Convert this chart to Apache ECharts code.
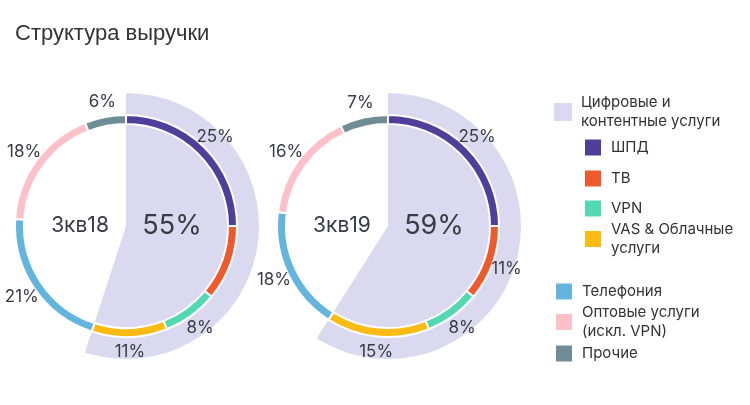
<!DOCTYPE html>
<html lang="ru">
<head>
    <meta charset="UTF-8">
    <title>Структура выручки</title>
    <script src="https://cdn.jsdelivr.net/npm/echarts@6/dist/echarts.min.js"></script>
    <style>
        html, body {margin: 0; padding: 0; background: #fff;}
        #main {width: 750px; height: 405px;}
    </style>
</head>
<body>
<div id="main"></div>
<script type="text/javascript">
// данные
var periods = ['3кв18', '3кв19'];
var digitalName = 'Цифровые и\nконтентные услуги';
var digitalShare = [55, 59];
var segNames = ['ШПД', 'ТВ', 'VPN', 'VAS & Облачные\nуслуги', 'Телефония', 'Оптовые услуги\n(искл. VPN)', 'Прочие'];
var segValues = [
    [25, 11, 8, 11, 21, 18, 6],
    [25, 11, 8, 15, 18, 16, 7]
];
var segColors = ['#4f3f9b', '#ee5a2c', '#52d8b2', '#fbbb14', '#64b5de', '#fcc1c8', '#6f8d97'];
var digitalColor = '#dbd9ef';

var centersX = [126, 388];
var centerY = 226;
var textColor = '#3a3a46';
var font = 'Inter';

var myChart = echarts.init(document.getElementById('main'));

var series = [];
var graphic = [];
periods.forEach(function (p, i) {
    var c = [centersX[i], centerY];
    // светлый сектор цифровых услуг
    series.push({
        type: 'pie', silent: true, startAngle: 90, clockwise: true,
        center: c, radius: [0, 133],
        label: {show: false}, labelLine: {show: false},
        data: [
            {name: digitalName, value: digitalShare[i], itemStyle: {color: digitalColor}},
            {name: 'other', value: 100 - digitalShare[i], itemStyle: {color: 'rgba(0,0,0,0)'}}
        ]
    });
    // кольцо
    series.push({
        type: 'pie', silent: true, startAngle: 90, clockwise: true,
        center: c, radius: [102, 111],
        itemStyle: {borderColor: '#fff', borderWidth: 2},
        label: {show: false}, labelLine: {show: false},
        data: segNames.map(function (n, k) {
            return {name: n, value: segValues[i][k], itemStyle: {color: segColors[k]}};
        })
    });
    // подписи процентов
    series.push({
        type: 'pie', silent: true, startAngle: 90, clockwise: true,
        center: c, radius: [112, 134],
        itemStyle: {color: 'rgba(0,0,0,0)'},
        label: {
            show: true, position: 'inside', rotate: 0,
            formatter: '{c}%', color: textColor, fontSize: 17, fontFamily: font
        },
        labelLine: {show: false},
        data: segNames.map(function (n, k) {
            return {name: n, value: segValues[i][k]};
        })
    });
    graphic.push({
        type: 'text', x: centersX[i] - 46, y: centerY, z: 100,
        style: {text: p, fill: textColor, fontSize: 21, fontFamily: font, textAlign: 'center', textVerticalAlign: 'middle'}
    });
    graphic.push({
        type: 'text', x: centersX[i] + 46, y: centerY, z: 100,
        style: {text: digitalShare[i] + '%', fill: textColor, fontSize: 27, fontFamily: font, textAlign: 'center', textVerticalAlign: 'middle'}
    });
});

// легенда: отдельный блок на каждый пункт
var legendPos = [
    [digitalName, 554, 112],
    [segNames[0], 583, 147],
    [segNames[1], 583, 178],
    [segNames[2], 583, 208],
    [segNames[3], 583, 239],
    [segNames[4], 554, 291],
    [segNames[5], 554, 322],
    [segNames[6], 554, 353]
];
var legends = legendPos.map(function (l) {
    var lines = l[0].split('\n').length;
    return {
        data: [l[0]], left: l[1], top: l[2] - lines * 9.5,
        icon: 'rect', itemWidth: 18, itemHeight: 18, itemGap: 0, padding: 0,
        selectedMode: false,
        textStyle: {fontSize: 15, lineHeight: 19, color: '#333', fontFamily: font, padding: [0, 0, 0, 4]}
    };
});

myChart.setOption({
    animation: false,
    title: {
        text: 'Структура выручки', left: 10, top: 18,
        textStyle: {fontSize: 22, fontWeight: 'normal', color: '#333', fontFamily: 'Liberation Sans'}
    },
    legend: legends,
    graphic: graphic,
    series: series
});
</script>
</body>
</html>
